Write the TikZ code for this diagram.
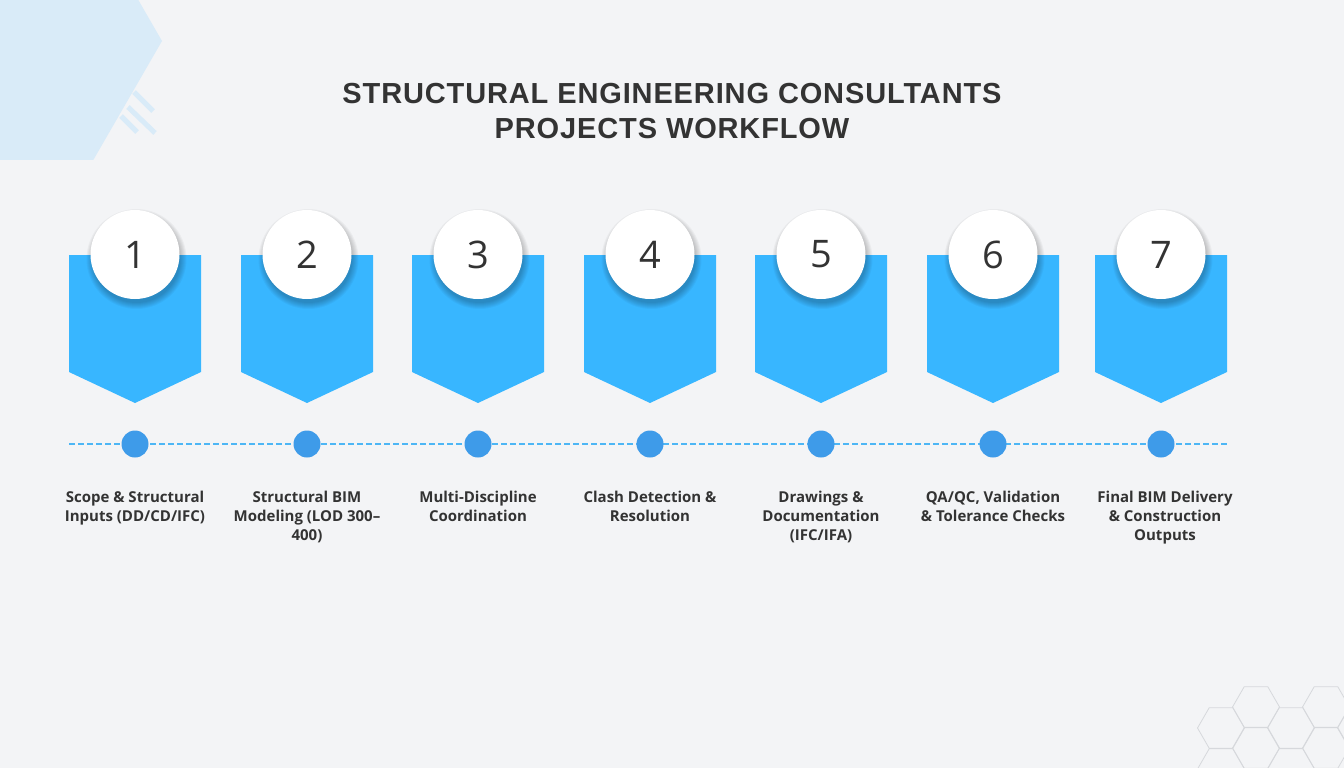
\documentclass[tikz,border=0pt]{standalone}
\usepackage{fontspec}
\setmainfont{Open Sans}
\newfontfamily\titlefont{Liberation Sans}[LetterSpace=3]
\usetikzlibrary{positioning}
\usetikzlibrary{fadings}
\definecolor{bg}{RGB}{243,244,246}
\definecolor{hexblue}{RGB}{217,235,248}
\definecolor{banner}{RGB}{56,182,255}
\definecolor{dotblue}{RGB}{62,155,233}
\definecolor{dashblue}{RGB}{77,182,245}
\definecolor{textgray}{RGB}{51,51,51}
\definecolor{hexgray}{RGB}{214,216,220}
\tikzfading[name=fade sides, left color=transparent!100, middle color=transparent!0, right color=transparent!100]

\begin{document}
\begin{tikzpicture}[x=1pt, y=-1pt,
    title/.style={align=center, text=textgray, font=\titlefont\bfseries\fontsize{29}{35}\selectfont},
    numcircle/.style={circle, fill=white, minimum size=89pt, inner sep=0pt, text=textgray,
        font=\fontsize{38}{38}\selectfont},
    stepdot/.style={circle, fill=dotblue, minimum size=27pt, inner sep=0pt},
    steplabel/.style={align=center, anchor=north, inner sep=0pt, text=textgray,
        font=\bfseries\fontsize{15}{19}\selectfont},
    hexline/.style={draw=hexgray, line width=0.8pt}]
    \useasboundingbox (0,0) rectangle (1344,768);
    \fill[bg] (0,0) rectangle (1344,768);

    % Corner decorations
    \fill[hexblue] (24.6,41) +(0:137.4) -- +(60:137.4) -- +(120:137.4) -- +(180:137.4) -- +(240:137.4) -- +(300:137.4) -- cycle;
    \draw[hexblue, line width=5pt] (134,92) -- (153,111);
    \draw[hexblue, line width=5pt] (128,107) -- (155,133);
    \draw[hexblue, line width=5pt] (121,116) -- (137,132);
    \foreach \cx/\cy in {1221/728, 1256/707, 1291/728, 1326/707, 1221/769, 1256/748, 1291/769, 1326/748, 1361/728} {
        \draw[hexline] (\cx,\cy) +(0:23.5) -- +(60:23.5) -- +(120:23.5) -- +(180:23.5) -- +(240:23.5) -- +(300:23.5) -- cycle;
    }

    % Title
    \node[title] (title) at (672,111) {STRUCTURAL ENGINEERING CONSULTANTS\\PROJECTS WORKFLOW};

    % Banners hanging from the bar
    \foreach \x in {135,307,478,650,821,993,1161} {
        \fill[banner] (\x-66,255) -- (\x+66,255) -- (\x+66,372) -- (\x,403) -- (\x-66,372) -- cycle;
    }

    % Shadow under the bar
    \foreach \k in {0,...,9} {
        \fill[black, opacity={0.11*(1-\k/10)}, path fading=fade sides] (40,255+\k) rectangle (1255,256+\k);
    }

    % Step numbers, with soft shadows
    \foreach \n/\x in {1/135, 2/307, 3/478, 4/650, 5/821, 6/993, 7/1161} {
        \foreach \k in {0,...,6} {
            \fill[black, opacity=0.035] (\x+1.5,259) circle (44+\k);
        }
        \node[numcircle] (num\n) at (\x,254.5) {\n};
    }

    % Timeline with dots
    \coordinate (lineL) at (69,444);
    \coordinate (lineR) at (1227,444);
    \draw[dashblue, line width=1.2pt, dash pattern=on 6pt off 3pt] (lineL) -- (lineR);
    \foreach \n/\x in {1/135, 2/307, 3/478, 4/650, 5/821, 6/993, 7/1161} {
        \node[stepdot] (dot\n) at (\x,444) {};
    }

    % Step labels
    \foreach \n/\x/\txt in {1/135/{Scope \& Structural\\Inputs (DD/CD/IFC)},
                            2/307/{Structural BIM\\Modeling (LOD 300--\\400)},
                            3/478/{Multi-Discipline\\Coordination},
                            4/650/{Clash Detection \&\\Resolution},
                            5/821/{Drawings \&\\Documentation\\(IFC/IFA)},
                            6/993/{QA/QC, Validation\\\& Tolerance Checks},
                            7/1165/{Final BIM Delivery\\\& Construction\\Outputs}} {
        \node[steplabel] (lab\n) at (\x,491) {\txt};
    }
\end{tikzpicture}
\end{document}
